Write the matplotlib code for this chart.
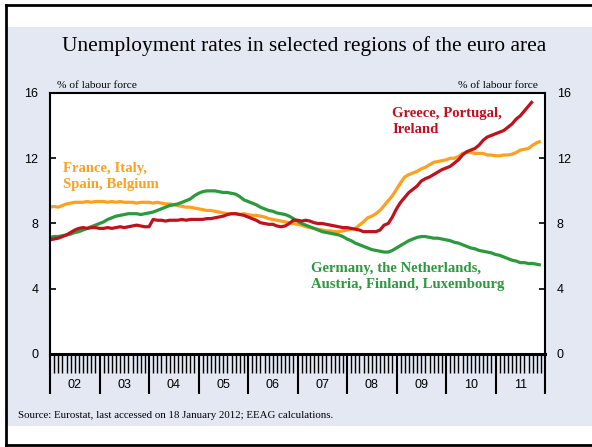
import numpy as np
import matplotlib
matplotlib.use("Agg")
import matplotlib.pyplot as plt
from matplotlib.patches import Rectangle
from matplotlib.lines import Line2D
import matplotlib.transforms as mtransforms

# monthly unemployment rates, Jan 2002 onward (% of labour force)
years = ["02", "03", "04", "05", "06", "07", "08", "09", "10", "11"]

south = [  # Greece, Portugal, Ireland
    7.0, 7.05, 7.1, 7.2, 7.3, 7.45, 7.6, 7.7, 7.75, 7.7, 7.75, 7.75,
    7.7, 7.7, 7.75, 7.7, 7.75, 7.8, 7.75, 7.8, 7.85, 7.9, 7.85, 7.8,
    7.8, 8.25, 8.2, 8.2, 8.15, 8.2, 8.2, 8.2, 8.25, 8.2, 8.25, 8.25,
    8.25, 8.25, 8.3, 8.3, 8.35, 8.4, 8.45, 8.55, 8.6, 8.6, 8.55, 8.5,
    8.4, 8.3, 8.2, 8.05, 8.0, 7.95, 7.95, 7.85, 7.8, 7.85, 8.0, 8.2,
    8.2, 8.15, 8.2, 8.15, 8.05, 8.0, 8.0, 7.95, 7.9, 7.85, 7.8, 7.75,
    7.75, 7.7, 7.65, 7.6, 7.5, 7.5, 7.5, 7.5, 7.6, 7.9, 8.0, 8.4,
    8.9, 9.3, 9.6, 9.9, 10.1, 10.3, 10.6, 10.75, 10.85, 11.0, 11.15, 11.3,
    11.4, 11.5, 11.7, 11.9, 12.2, 12.4, 12.5, 12.6, 12.8, 13.1, 13.3, 13.4,
    13.5, 13.6, 13.7, 13.9, 14.1, 14.4, 14.6, 14.9, 15.2, 15.5,
]

west = [  # France, Italy, Spain, Belgium
    9.0, 9.05, 9.0, 9.1, 9.2, 9.25, 9.3, 9.3, 9.3, 9.35, 9.3, 9.35,
    9.35, 9.35, 9.3, 9.35, 9.3, 9.35, 9.3, 9.3, 9.3, 9.25, 9.3, 9.3,
    9.3, 9.25, 9.3, 9.25, 9.2, 9.2, 9.15, 9.1, 9.05, 9.0, 9.0, 8.95,
    8.9, 8.85, 8.8, 8.8, 8.75, 8.7, 8.65, 8.6, 8.6, 8.6, 8.55, 8.6,
    8.55, 8.5, 8.5, 8.45, 8.4, 8.3, 8.25, 8.2, 8.15, 8.1, 8.05, 8.0,
    7.95, 7.9, 7.8, 7.75, 7.7, 7.65, 7.6, 7.55, 7.55, 7.5, 7.5, 7.55,
    7.6, 7.65, 7.7, 7.9, 8.1, 8.35, 8.45, 8.6, 8.8, 9.1, 9.4, 9.7,
    10.1, 10.5, 10.85, 11.0, 11.1, 11.2, 11.35, 11.45, 11.6, 11.75, 11.8, 11.85,
    11.9, 12.0, 12.0, 12.1, 12.3, 12.35, 12.35, 12.3, 12.3, 12.3, 12.2, 12.2,
    12.15, 12.15, 12.2, 12.2, 12.25, 12.35, 12.5, 12.55, 12.6, 12.8, 12.95, 13.05,
]

north = [  # Germany, the Netherlands, Austria, Finland, Luxembourg
    7.15, 7.2, 7.2, 7.25, 7.3, 7.35, 7.45, 7.5, 7.6, 7.7, 7.8, 7.9,
    8.0, 8.1, 8.25, 8.35, 8.45, 8.5, 8.55, 8.6, 8.6, 8.6, 8.55, 8.6,
    8.65, 8.7, 8.8, 8.9, 9.0, 9.1, 9.15, 9.2, 9.3, 9.4, 9.5, 9.7,
    9.85, 9.95, 10.0, 10.0, 10.0, 9.95, 9.9, 9.9, 9.85, 9.8, 9.65, 9.45,
    9.35, 9.25, 9.15, 9.0, 8.9, 8.8, 8.75, 8.65, 8.6, 8.55, 8.45, 8.3,
    8.15, 8.0, 7.9, 7.8, 7.7, 7.6, 7.5, 7.45, 7.4, 7.35, 7.3, 7.2,
    7.05, 6.95, 6.8, 6.7, 6.6, 6.5, 6.4, 6.35, 6.3, 6.25, 6.25, 6.35,
    6.5, 6.65, 6.8, 6.95, 7.05, 7.15, 7.2, 7.2, 7.15, 7.1, 7.1, 7.05,
    7.0, 6.95, 6.85, 6.8, 6.7, 6.6, 6.5, 6.45, 6.35, 6.3, 6.25, 6.2,
    6.1, 6.05, 5.95, 5.85, 5.75, 5.7, 5.6, 5.6, 5.55, 5.55, 5.5, 5.45,
]

RED = "#c0111d"
ORANGE = "#ffa01c"
GREEN = "#2a9a3c"
BAND = "#e3e8f2"
SERIF = "Liberation Serif"
SANS = "Liberation Sans"

fig = plt.figure(figsize=(5.92, 4.47), dpi=100)
fig.patch.set_facecolor("white")

# shaded band and outer frame
W, H = 592.0, 447.0
fig.patches.append(Rectangle((6 / W, 1 - 426 / H), 1, (426 - 27) / H,
                             transform=fig.transFigure, facecolor=BAND,
                             edgecolor="none", zorder=-10))
for xs, ys in [((6 / W, 6 / W), (1 - 5 / H, 1 - 445 / H)),
               ((6 / W, 1), (1 - 5 / H, 1 - 5 / H)),
               ((6 / W, 1), (1 - 445 / H, 1 - 445 / H))]:
    fig.lines.append(Line2D(xs, ys, transform=fig.transFigure, color="black", lw=2))

ax = fig.add_axes([50 / W, 1 - 354 / H, 495 / W, 261 / H])
ax.set_zorder(5)
ax.set_facecolor("white")

ax.plot(np.arange(len(west)), west, color=ORANGE, lw=2.3, solid_capstyle="butt")
ax.plot(np.arange(len(north)), north, color=GREEN, lw=2.3, solid_capstyle="butt")
ax.plot(np.arange(len(south)), south, color=RED, lw=2.3, solid_capstyle="butt")

ax.set_xlim(0, 12 * len(years))
ax.set_ylim(0, 16)

for s in ["left", "right", "top"]:
    ax.spines[s].set_linewidth(1.5)
ax.spines["bottom"].set_linewidth(2.2)

ax.set_yticks([0, 4, 8, 12, 16])
ax.tick_params(axis="y", which="both", direction="in", length=4, width=1.2,
               left=True, right=True, labelleft=True, labelright=True,
               labelsize=9, pad=8.5)
for lab in ax.get_yticklabels():
    lab.set_fontfamily(SANS)

ax.set_xticks(np.arange(0, 12 * len(years) + 1, 12))
ax.set_xticks([m for m in range(1, 12 * len(years)) if m % 12], minor=True)
ax.tick_params(axis="x", which="major", direction="out", length=28.5, width=1.5,
               labelbottom=False)
ax.tick_params(axis="x", which="minor", direction="out", length=13.5, width=1.0)

trans = mtransforms.blended_transform_factory(ax.transData, ax.transAxes)
for k, yr in enumerate(years):
    ax.text(12 * k + 6, -0.12, yr, transform=trans, ha="center", va="center",
            fontsize=9, fontfamily=SANS)

# series labels
lab_kw = dict(fontsize=10.6, fontweight="bold", fontfamily=SERIF,
              va="top", ha="left", linespacing=1.3)
ax.text(83, 15.15, "Greece, Portugal,\nIreland", color=RED, **lab_kw)
ax.text(3.2, 11.8, "France, Italy,\nSpain, Belgium", color=ORANGE, **lab_kw)
ax.text(63.3, 5.65, "Germany, the Netherlands,\nAustria, Finland, Luxembourg",
        color=GREEN, **lab_kw)

ax.text(0.014, 1.01, "% of labour force", transform=ax.transAxes, fontsize=8.2,
        fontfamily=SERIF, ha="left", va="bottom")
ax.text(0.985, 1.01, "% of labour force", transform=ax.transAxes, fontsize=8.2,
        fontfamily=SERIF, ha="right", va="bottom")

fig.text(304 / W, 1 - 46 / H, "Unemployment rates in selected regions of the euro area",
         fontsize=15.4, fontfamily=SERIF, ha="center", va="center")
fig.text(18 / W, 1 - 415 / H,
         "Source: Eurostat, last accessed on 18 January 2012; EEAG calculations.",
         fontsize=7.8, fontfamily=SERIF, ha="left", va="center")

fig.savefig("out.png", dpi=100, facecolor=fig.get_facecolor())
